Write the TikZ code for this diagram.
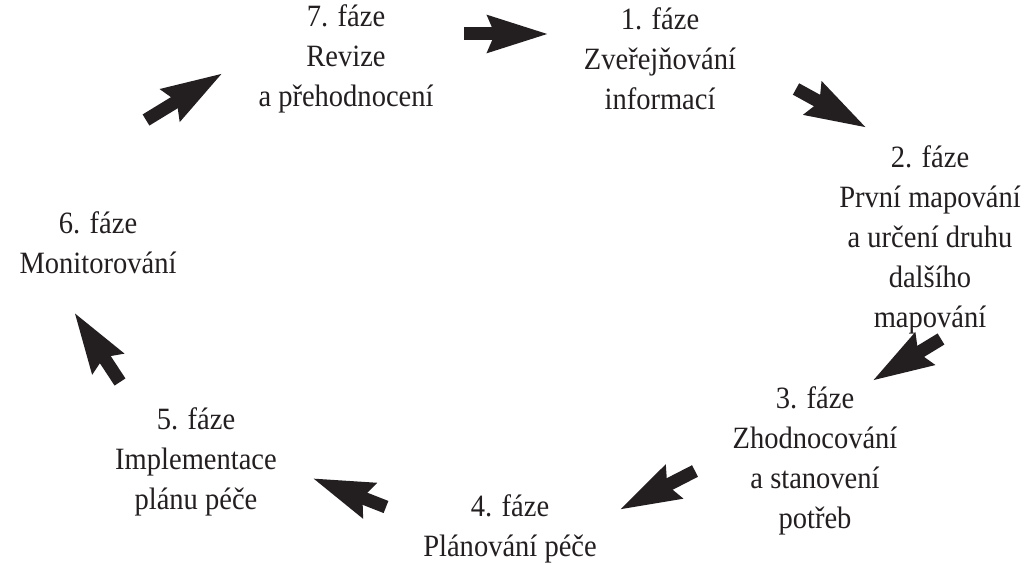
\documentclass[tikz,border=0pt]{standalone}
\usepackage{fontspec}
\setmainfont{Liberation Serif}[FakeStretch=0.92]
\usepackage{tikz}
\usetikzlibrary{arrows.meta}

\definecolor{ink}{HTML}{231F20}

\begin{document}
\begin{tikzpicture}[
  x=0.5pt,y=-0.5pt,
  phase/.style={align=center,inner sep=0pt,text=ink,font=\fontsize{15.5}{20}\selectfont},
  bigarr/.style={draw=ink,line width=6.5pt,-{Stealth[length=30pt,width=17.5pt,inset=3pt]}}
]
  \useasboundingbox (0,0) rectangle (1026,565);

  \node[phase] (p1) at (660,59) {1. fáze\\Zveřejňování\\informací};
  \node[phase] (p2) at (930,240) {2. fáze\\První mapování\\a určení druhu\\dalšího\\mapování};
  \node[phase] (p3) at (815,461) {3. fáze\\Zhodnocování\\a stanovení\\potřeb};
  \node[phase] (p4) at (510,529) {4. fáze\\Plánování péče};
  \node[phase] (p5) at (196,462) {5. fáze\\Implementace\\plánu péče};
  \node[phase] (p6) at (98,243) {6. fáze\\Monitorování};
  \node[phase] (p7) at (346,59) {7. fáze\\Revize\\a přehodnocení};

  % arrow ends
  \coordinate (a71) at (464,34);  \coordinate (b71) at (549,34);
  \coordinate (a12) at (796,89);  \coordinate (b12) at (867,128);
  \coordinate (a23) at (941,339); \coordinate (b23) at (872,381);
  \coordinate (a34) at (695,471); \coordinate (b34) at (619,510);
  \coordinate (a45) at (386,507); \coordinate (b45) at (312,478);
  \coordinate (a56) at (120,382); \coordinate (b56) at (74,312);
  \coordinate (a67) at (146,120); \coordinate (b67) at (223,73);

  \draw[bigarr] (a71)--(b71);
  \draw[bigarr] (a12)--(b12);
  \draw[bigarr] (a23)--(b23);
  \draw[bigarr] (a34)--(b34);
  \draw[bigarr] (a45)--(b45);
  \draw[bigarr] (a56)--(b56);
  \draw[bigarr] (a67)--(b67);
\end{tikzpicture}
\end{document}
